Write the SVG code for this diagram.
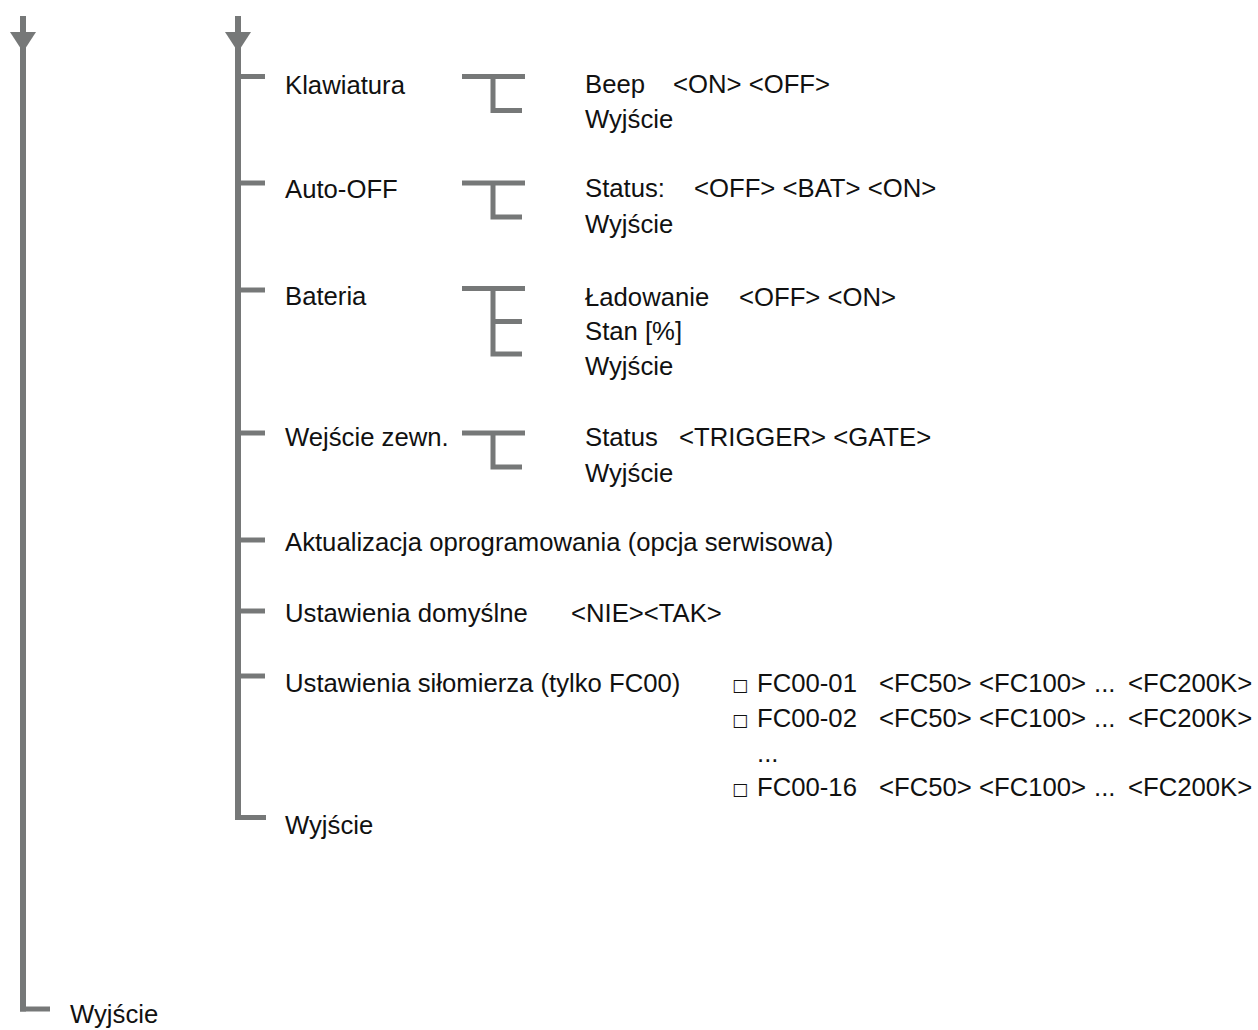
<svg xmlns="http://www.w3.org/2000/svg" width="1258" height="1030" viewBox="0 0 1258 1030">
<defs>
<style>
.t{font-family:"Liberation Sans",Arial,sans-serif;font-size:25.7px;fill:#111}
.sq{font-family:"DejaVu Sans",sans-serif;font-size:17px;fill:#111}
.v{stroke:#767878;stroke-width:6;fill:none}
.h{stroke:#767878;stroke-width:5;fill:none}
.ah{fill:#767878}
</style>
</defs>
<rect width="1258" height="1030" fill="#fff"/>
<g id="connectors">
<line class="v" x1="23" y1="16" x2="23" y2="1011.5"/>
<line class="h" x1="20" y1="1009" x2="50" y2="1009"/>
<polygon class="ah" points="10,32 36,32 23,52"/>
<line class="v" x1="238" y1="16" x2="238" y2="820"/>
<line class="h" x1="235" y1="817.5" x2="266" y2="817.5"/>
<polygon class="ah" points="225,32 251,32 238,52"/>
<line class="h" x1="238" y1="76.5" x2="265" y2="76.5"/>
<line class="h" x1="238" y1="183" x2="265" y2="183"/>
<line class="h" x1="238" y1="290" x2="265" y2="290"/>
<line class="h" x1="238" y1="433" x2="265" y2="433"/>
<line class="h" x1="238" y1="540" x2="265" y2="540"/>
<line class="h" x1="238" y1="611" x2="265" y2="611"/>
<line class="h" x1="238" y1="676" x2="265" y2="676"/>
<path class="h" d="M462,76.5H525M493,76.5V113M490.5,110.5H522"/>
<path class="h" d="M462,183H525M493,183V219.5M490.5,217H522"/>
<path class="h" d="M462,288.5H525M493,288.5V356.5M490.5,321.5H522M490.5,354H522"/>
<path class="h" d="M462,433H525M493,433V469.5M490.5,467H522"/>
</g>
<g id="klawiatura">
<text class="t" x="285" y="94">Klawiatura</text>
<text class="t" x="585" y="93">Beep</text>
<text class="t" x="673" y="93">&lt;ON&gt; &lt;OFF&gt;</text>
<text class="t" x="585" y="128">Wyjście</text>
</g>
<g id="auto-off">
<text class="t" x="285" y="198">Auto-OFF</text>
<text class="t" x="585" y="197">Status:</text>
<text class="t" x="694" y="197">&lt;OFF&gt; &lt;BAT&gt; &lt;ON&gt;</text>
<text class="t" x="585" y="233">Wyjście</text>
</g>
<g id="bateria">
<text class="t" x="285" y="305">Bateria</text>
<text class="t" x="585" y="306">Ładowanie</text>
<text class="t" x="739" y="306">&lt;OFF&gt; &lt;ON&gt;</text>
<text class="t" x="585" y="340">Stan [%]</text>
<text class="t" x="585" y="375">Wyjście</text>
</g>
<g id="wejscie-zewn">
<text class="t" x="285" y="446">Wejście zewn.</text>
<text class="t" x="585" y="446">Status</text>
<text class="t" x="679" y="446">&lt;TRIGGER&gt; &lt;GATE&gt;</text>
<text class="t" x="585" y="482">Wyjście</text>
</g>
<g id="aktualizacja">
<text class="t" x="285" y="551">Aktualizacja oprogramowania (opcja serwisowa)</text>
</g>
<g id="ustawienia-domyslne">
<text class="t" x="285" y="622">Ustawienia domyślne</text>
<text class="t" x="571" y="622">&lt;NIE&gt;&lt;TAK&gt;</text>
</g>
<g id="ustawienia-silomierza">
<text class="t" x="285" y="692">Ustawienia siłomierza (tylko FC00)</text>
<text class="sq" x="732" y="691">□</text>
<text class="t" x="757" y="692">FC00-01</text>
<text class="t" x="879" y="692">&lt;FC50&gt;</text>
<text class="t" x="979" y="692">&lt;FC100&gt;</text>
<text class="t" x="1094" y="692">...</text>
<text class="t" x="1128" y="692">&lt;FC200K&gt;</text>
<text class="sq" x="732" y="726">□</text>
<text class="t" x="757" y="727">FC00-02</text>
<text class="t" x="879" y="727">&lt;FC50&gt;</text>
<text class="t" x="979" y="727">&lt;FC100&gt;</text>
<text class="t" x="1094" y="727">...</text>
<text class="t" x="1128" y="727">&lt;FC200K&gt;</text>
<text class="t" x="757" y="762">...</text>
<text class="sq" x="732" y="795">□</text>
<text class="t" x="757" y="796">FC00-16</text>
<text class="t" x="879" y="796">&lt;FC50&gt;</text>
<text class="t" x="979" y="796">&lt;FC100&gt;</text>
<text class="t" x="1094" y="796">...</text>
<text class="t" x="1128" y="796">&lt;FC200K&gt;</text>
</g>
<g id="wyjscie-inner">
<text class="t" x="285" y="834">Wyjście</text>
</g>
<g id="wyjscie-outer">
<text class="t" x="70" y="1023">Wyjście</text>
</g>
</svg>
